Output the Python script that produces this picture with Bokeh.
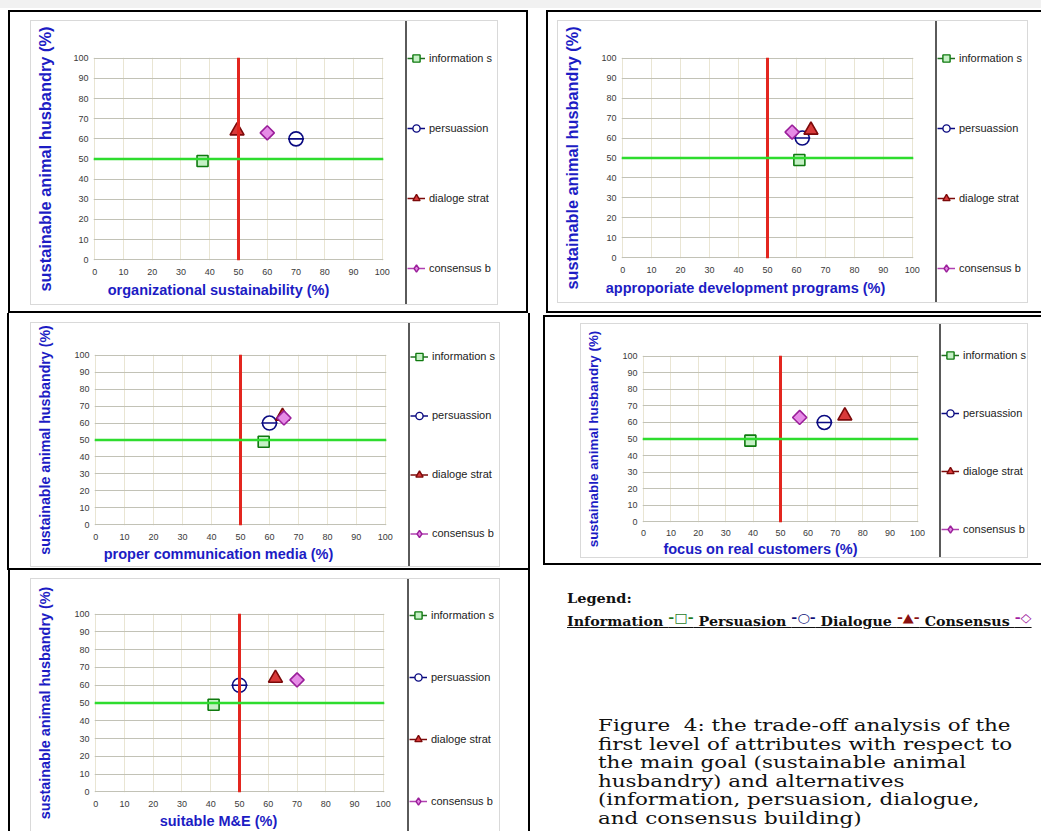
import math
from bokeh.plotting import figure
from bokeh.models import (Range1d, Span, Legend, LegendItem, Title, Div, Spacer,
                          ColumnDataSource)
from bokeh.layouts import row, column
from bokeh.embed import file_html
from bokeh.resources import INLINE

# ---------------- data ----------------
SERIES = ["information s", "persuassion", "dialoge strat", "consensus b"]
GOAL_Y = [49, 60, 64, 63]           # sustainable animal husbandry (%)
ORG_X = [37.5, 70, 49.5, 60]        # organizational sustainability (%)
ADP_X = [61, 62, 65, 58.5]          # approporiate development programs (%)
PCM_X = [58, 60, 64.5, 65]          # proper communication media (%)
FRC_X = [39, 66, 73.5, 57]          # focus on real customers (%)
ME_X = [41, 50, 62.5, 70]           # suitable M&E (%)
X_TITLES = ["organizational sustainability (%)",
            "approporiate development programs (%)",
            "proper communication media (%)",
            "focus on real customers (%)",
            "suitable M&E (%)"]
Y_TITLE = "sustainable animal husbandry (%)"
TICKS = list(range(0, 101, 10))
THRESHOLD_X = 50
THRESHOLD_Y = 50

LEGEND_NAMES = ["Information", "Persuasion", "Dialogue", "Consensus"]
LEGEND_SYMBOLS = ["-\u25a1-", "-\u25cb-", "-\u25b2-", "-\u25c7"]
CAPTION_LINES = ["Figure&nbsp;&nbsp;4: the trade-off analysis of the",
                 "first level of attributes with respect to",
                 "the main goal (sustainable animal",
                 "husbandry) and alternatives",
                 "(information, persuasion, dialogue,",
                 "and consensus building)"]

# ---------------- styles ----------------
BLUE = "#1c1cc4"
MARKERS = [
    dict(marker="square", key="square", size=11, angle=0.0,
         line_color="#0f7a0f", fill_color="#c6f0c6"),
    dict(marker="circle", key="circle", size=14, angle=0.0,
         line_color="#0a0a80", fill_color="#ffffff"),
    dict(marker="triangle", key="triangle", size=14, angle=0.0,
         line_color="#7c0a0a", fill_color="#d93a3a"),
    dict(marker="square", key="diamond", size=10, angle=math.pi / 4,
         line_color="#9a1f9a", fill_color="#e68be6"),
]
LEG_LINE = ["#1f6f1f", "#0a0a80", "#7c0a0a", "#b040b0"]
SYM_COLORS = ["#1f7a1f", "#10107a", "#8a1010", "#a020a0"]

# Arial/Liberation Sans Bold advance widths (1/1000 em) to place the x titles
_BW = dict(zip("abcdefghijklmnopqrstuvwxyz",
               [556, 611, 556, 611, 556, 333, 611, 611, 278, 278, 556, 278, 889,
                611, 611, 611, 611, 389, 556, 333, 611, 556, 778, 556, 556, 500]))
_BW.update({" ": 278, "(": 333, ")": 333, "%": 889, "M": 833, "&": 722, "E": 667})


def bold_width(s, size):
    return sum(_BW.get(c, 600) for c in s) * size / 1000.0


# page geometry of each panel (absolute pixels)
# box: outer black box, bw: border widths (top, right, bottom, left)
# area: light grey chart area (x0, y0, x1, y1), abw: its borders (t, r, b, l)
PANELS = [
    dict(xs=ORG_X, box=(8, 10, 528, 313), bw=(2, 2, 2, 2),
         area=(30, 20, 498, 305), abw=(1, 1, 1, 1), divider=405, tks=8,
         frame=(93, 57, 383, 260), lg=(68, 2, 1), xlab=(218, 293), ylab_x=45, ylab_size=16.4),
    dict(xs=ADP_X, box=(546, 10, 1041, 313), bw=(2, 0, 2, 2),
         area=(557, 20, 1028, 303), abw=(1, 1, 1, 1), divider=935, tks=8,
         frame=(621, 57, 913, 258), lg=(68, 2, 1), xlab=(745, 290), ylab_x=572, ylab_size=16.3),
    dict(xs=PCM_X, box=(7, 313, 530, 570), bw=(0, 2, 2, 2),
         area=(30, 322, 500, 567), abw=(1, 1, 1, 1), divider=408, tks=8,
         frame=(94, 354, 386, 525), lg=(57, 2, 2), xlab=(218, 555), ylab_x=45, ylab_size=14.2),
    dict(xs=FRC_X, box=(543, 315, 1041, 565), bw=(2, 0, 2, 2),
         area=(580, 323, 1028, 558), abw=(1, 1, 1, 1), divider=939, tks=7,
         frame=(642, 355, 918, 522), lg=(56, 2, 0), xlab=(760, 550), ylab_x=593, ylab_size=13.4),
    dict(xs=ME_X, box=(8, 570, 530, 831), bw=(0, 2, 0, 2),
         area=(30, 578, 500, 831), abw=(1, 1, 0, 1), divider=407, tks=8,
         frame=(94, 613, 384, 792), lg=(60, 2, 2), xlab=(218, 822), ylab_x=45, ylab_size=14.4),
]


def css_border(widths, color):
    t, r, b, l = widths
    return {"border-style": "solid", "border-color": color,
            "border-width": f"{t}px {r}px {b}px {l}px"}


def hspace(w):
    return [Spacer(width=w, height=1)] if w > 0 else []


def vspace(h):
    return [Spacer(width=1, height=h)] if h > 0 else []


def make_panel(spec, xtitle):
    bx0, by0, bx1, by1 = spec["box"]
    bt, br, bb, bl = spec["bw"]
    cx0, cy0, cx1, cy1 = bx0 + bl, by0 + bt, bx1 - br, by1 - bb
    ax0, ay0, ax1, ay1 = spec["area"]
    at, ar, ab, al = spec["abw"]
    dx = spec["divider"]
    ox, oy = ax0 + al, ay0 + at
    CW = dx - ox
    LW = (ax1 - ar) - (dx + 2)
    H = (ay1 - ab) - oy
    fx0, fy0, fx1, fy1 = spec["frame"]
    fl, ft, fw, fh = fx0 - ox, fy0 - oy, fx1 - fx0, fy1 - fy0
    mbb = H - ft - fh

    p = figure(width=CW, height=H, title=None, toolbar_location=None, output_backend="svg",
               x_range=Range1d(-0.4, 100.4), y_range=Range1d(-0.4, 100.4),
               min_border_left=fl, min_border_top=ft,
               min_border_right=CW - fl - fw, min_border_bottom=mbb,
               outline_line_color=None, background_fill_color="white",
               border_fill_color="white")
    for ax in (p.xaxis, p.yaxis):
        ax.ticker = TICKS
        ax.axis_line_color = None
        ax.major_tick_line_color = None
        ax.minor_tick_line_color = None
        ax.major_tick_out = 0
        ax.major_tick_in = 0
        ax.minor_tick_out = 0
        ax.major_label_text_font = "Liberation Sans"
        ax.major_label_text_font_size = "9px"
        ax.major_label_text_color = "#3a3a3a"
    p.xaxis.major_label_standoff = spec["tks"]
    p.yaxis.major_label_standoff = 5
    ys = spec["ylab_size"]
    p.yaxis.axis_label = Y_TITLE
    p.yaxis.axis_label_text_font = "Liberation Sans"
    p.yaxis.axis_label_text_font_size = f"{ys}px"
    p.yaxis.axis_label_text_font_style = "bold"
    p.yaxis.axis_label_text_color = BLUE
    p.yaxis.axis_label_standoff = max(0, round(fx0 - 5 - 15 - 0.575 * ys - 3 - spec["ylab_x"]))
    p.xgrid.grid_line_color = "#e9e5d3"
    p.ygrid.grid_line_color = "#c2c2b6"

    p.add_layout(Span(location=THRESHOLD_X, dimension="height",
                      line_color="#e3261f", line_width=3))
    p.add_layout(Span(location=THRESHOLD_Y, dimension="width",
                      line_color="#2edc2e", line_width=2.5))

    # legend figure (to the right of the divider); its view window (0..1)
    # holds no data point, so only the legend keys show there
    q = figure(width=LW, height=H, title=None, toolbar_location=None, output_backend="svg",
               x_range=Range1d(0, 1), y_range=Range1d(0, 1),
               x_axis_location=None, y_axis_location=None, min_border=0,
               outline_line_color=None, background_fill_color="white",
               border_fill_color="white")
    q.grid.visible = False

    xs = spec["xs"]
    items = []
    for i, name in enumerate(SERIES):
        st = MARKERS[i]
        src = ColumnDataSource(dict(x=[xs[i]], y=[GOAL_Y[i]]))
        p.scatter("x", "y", source=src, marker=st["marker"], size=st["size"],
                  angle=st["angle"], line_color=st["line_color"],
                  fill_color=st["fill_color"], line_width=1.6)
        if i == 1:
            p.scatter("x", "y", source=src, marker="dash", size=st["size"] + 2,
                      line_color=st["line_color"], line_width=1.6)
        rl = q.line("x", "y", source=src, line_color=LEG_LINE[i], line_width=1.5)
        rs = q.scatter("x", "y", source=src, marker=st["key"], size=st["size"],
                       line_color=st["line_color"], fill_color=st["fill_color"],
                       line_width=1.4)
        items.append(LegendItem(label=name, renderers=[rl, rs]))

    h, sp, pad = spec["lg"]
    top = ft - h / 2 - pad
    height = 2 * pad + 4 * h + 3 * sp
    vy = H - (top + height)
    legend = Legend(items=items, location=(0, vy), orientation="vertical",
                    glyph_width=18, glyph_height=h, label_height=h, spacing=sp,
                    padding=pad, margin=0, label_standoff=4,
                    label_text_font="Liberation Sans", label_text_font_size="11px",
                    label_text_color="#222222", border_line_color=None,
                    background_fill_alpha=0)
    q.add_layout(legend)

    # x title, placed where the reference puts it
    xw = bold_width(xtitle, 14.5)
    axis_h = spec["tks"] + 10
    sto = spec["xlab"][1] - (fy1 + axis_h + 10.5)
    sto = max(0, min(round(sto), mbb - axis_h - 19))
    p.add_layout(Title(text=xtitle, align="left", offset=spec["xlab"][0] - xw / 2 - fx0,
                       text_font="Liberation Sans", text_font_size="14.5px",
                       text_font_style="bold", text_color=BLUE, standoff=sto,
                       vertical_align="bottom"), "below")

    legend_col = column(q, styles={"border-left": "2px solid #5a5a5a"})
    area = row(p, legend_col, styles=css_border((at, ar, ab, al), "#d9d9d9"))
    inner = column(*vspace(ay0 - cy0),
                   row(*hspace(ax0 - cx0), area, *hspace(cx1 - ax1)),
                   *vspace(cy1 - ay1))
    return column(inner, styles=css_border((bt, br, bb, bl), "black"))


panels = [make_panel(s, t) for s, t in zip(PANELS, X_TITLES)]

parts = []
for name, sym, c in zip(LEGEND_NAMES, LEGEND_SYMBOLS, SYM_COLORS):
    parts.append(f'{name} <span style="color:{c};position:relative;top:-4px;">{sym}</span>')
legend_line = " ".join(parts)
caption = "<br>".join(CAPTION_LINES)
html = f"""
<div style="position:relative;width:511px;height:261px;overflow:hidden;
            font-family:'DejaVu Serif',serif;color:#111;">
  <div style="position:absolute;left:32px;top:15px;font-size:12.5px;font-weight:bold;
              transform:scaleX(1.16);transform-origin:0 0;">Legend:</div>
  <div style="position:absolute;left:32px;top:38px;font-size:12.5px;font-weight:bold;
              white-space:nowrap;text-decoration:underline;
              transform:scaleX(1.14);transform-origin:0 0;">{legend_line}</div>
  <div style="position:absolute;left:63px;top:142px;font-size:16px;line-height:18.6px;
              white-space:nowrap;transform:scaleX(1.34);transform-origin:0 0;">{caption}</div>
</div>
"""
div = Div(text=html, width=511, height=261)

layout = column(
    Spacer(width=1041, height=8, styles={"background-color": "#f1f1f1"}),
    Spacer(width=10, height=2),
    row(Spacer(width=8, height=10), panels[0], Spacer(width=18, height=10), panels[1]),
    row(Spacer(width=7, height=10), panels[2], Spacer(width=13, height=10),
        column(Spacer(width=10, height=2), panels[3])),
    row(Spacer(width=8, height=10), panels[4], div),
)

open("out.html", "w").write(file_html(layout, INLINE, title="trade-off analysis"))
